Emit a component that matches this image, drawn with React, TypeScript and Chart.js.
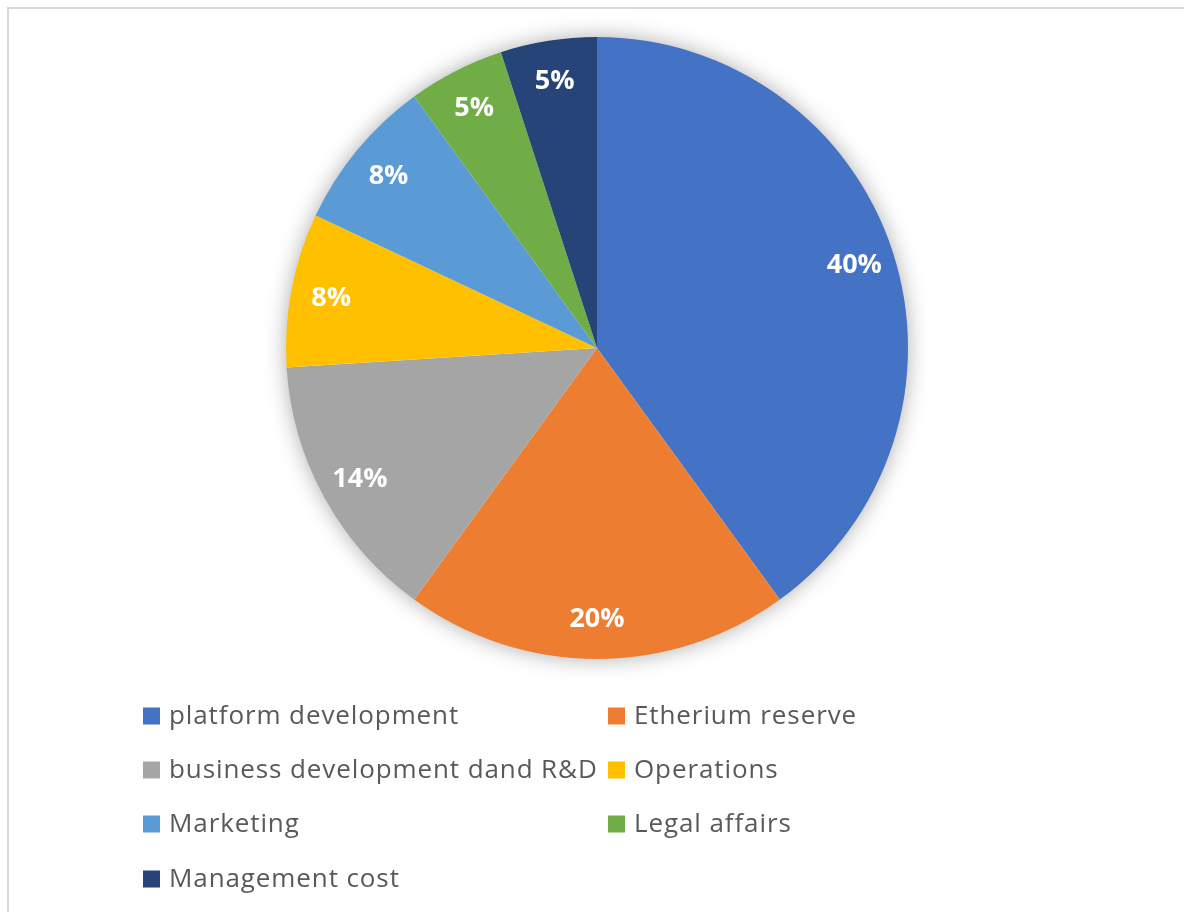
import React, { useEffect, useRef } from "react";
import { Chart, registerables } from "chart.js";

Chart.register(...registerables);

const categories = [
  "platform development",
  "Etherium reserve",
  "business development dand R&D",
  "Operations",
  "Marketing",
  "Legal affairs",
  "Management cost",
];
const shares = [40, 20, 14, 8, 8, 5, 5];
const colors = ["#4472C4", "#ED7D31", "#A5A5A5", "#FFC000", "#5B9BD5", "#70AD47", "#264478"];

const FONT = "'Open Sans', Lato, sans-serif";

const shadowPlugin = {
  id: "pieShadow",
  beforeDatasetsDraw(chart: any) {
    const meta = chart.getDatasetMeta(0);
    const arc = meta.data[0];
    if (!arc) return;
    const { x, y, outerRadius } = arc.getProps(["x", "y", "outerRadius"], true);
    const ctx = chart.ctx;
    ctx.save();
    ctx.shadowColor = "rgba(0,0,0,0.35)";
    ctx.shadowBlur = 22;
    ctx.fillStyle = "#ffffff";
    ctx.beginPath();
    ctx.arc(x, y, outerRadius - 1, 0, Math.PI * 2);
    ctx.fill();
    ctx.restore();
  },
};

const labelPlugin = {
  id: "sliceLabels",
  afterDatasetsDraw(chart: any) {
    const ctx = chart.ctx;
    const meta = chart.getDatasetMeta(0);
    const data = chart.data.datasets[0].data as number[];
    const total = data.reduce((a, b) => a + b, 0);
    ctx.save();
    ctx.fillStyle = "#ffffff";
    ctx.font = `bold 27px ${FONT}`;
    ctx.textAlign = "center";
    ctx.textBaseline = "middle";
    meta.data.forEach((el: any, i: number) => {
      const { x, y, startAngle, endAngle, outerRadius } = el.getProps(
        ["x", "y", "startAngle", "endAngle", "outerRadius"],
        true
      );
      const mid = (startAngle + endAngle) / 2;
      const r = outerRadius * 0.87;
      const pct = Math.round((data[i] / total) * 100) + "%";
      ctx.fillText(pct, x + Math.cos(mid) * r, y + Math.sin(mid) * r + 1);
    });
    ctx.restore();
  },
};

const legendPlugin = {
  id: "gridLegend",
  afterDraw(chart: any) {
    const ctx = chart.ctx;
    const labels = chart.data.labels as string[];
    const bg = chart.data.datasets[0].backgroundColor as string[];
    const colX = [143, 608];
    const rowY = [716, 770, 824, 879];
    ctx.save();
    ctx.font = `26px ${FONT}`;
    (ctx as any).letterSpacing = "0.9px";
    ctx.textBaseline = "middle";
    ctx.textAlign = "left";
    labels.forEach((lab, i) => {
      const cx = colX[i % 2];
      const cy = rowY[Math.floor(i / 2)];
      ctx.fillStyle = bg[i];
      ctx.fillRect(cx, cy - 8.5, 17, 17);
      ctx.fillStyle = "#595959";
      ctx.fillText(lab, cx + 26, cy + 1);
    });
    ctx.restore();
  },
};

export default function App() {
  const ref = useRef<HTMLCanvasElement | null>(null);
  useEffect(() => {
    document.body.style.margin = "0";
    const chart = new Chart(ref.current as HTMLCanvasElement, {
      type: "pie",
      data: {
        labels: categories,
        datasets: [
          {
            data: shares,
            backgroundColor: colors,
            borderWidth: 0,
          },
        ],
      },
      options: {
        responsive: false,
        animation: false,
        rotation: 0,
        layout: { padding: { left: 286, right: 276, top: 37, bottom: 253 } },
        plugins: { legend: { display: false }, tooltip: { enabled: false } },
      },
      plugins: [shadowPlugin, labelPlugin, legendPlugin],
    });
    return () => chart.destroy();
  }, []);
  return (
    <div style={{ position: "relative", width: 1184, height: 912, overflow: "hidden", background: "#fff" }}>
      <canvas ref={ref} width={1184} height={912} style={{ position: "absolute", left: 0, top: 0 }} />
      <div
        style={{
          position: "absolute",
          left: 7,
          top: 7,
          width: 1400,
          height: 1200,
          borderTop: "2px solid #d9d9d9",
          borderLeft: "2px solid #d9d9d9",
          pointerEvents: "none",
        }}
      />
    </div>
  );
}
